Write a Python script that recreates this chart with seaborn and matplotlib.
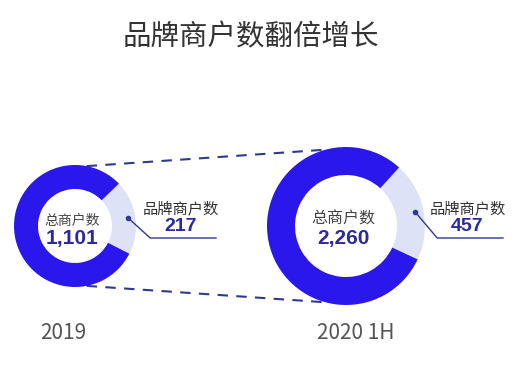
import numpy as np
import matplotlib
matplotlib.use("Agg")
import matplotlib.pyplot as plt
import seaborn as sns

# данные
years = ["2019", "2020 1H"]
total_merchants = [1101, 2260]
brand_merchants = [217, 457]
title = "品牌商户数翻倍增长"
center_label = "总商户数"
brand_label = "品牌商户数"

sns.set_theme(style="white")
plt.rcParams["font.family"] = ["Noto Sans CJK SC", "DejaVu Sans"]

blue = "#2a17ec"
light = "#dde2f7"
navy = "#2b2b9c"
line_col = "#2d3a8e"
H = 373

# layout (pixels, y from top)
centers = [(75, 226), (346, 226)]
radii = [61, 79]
widths = [24, 28]
start_angles = [-27, -25]
year_x = [63, 356]

fig = plt.figure(figsize=(5.22, 3.73), dpi=100)
ax = fig.add_axes([0, 0, 1, 1])

for i in range(len(years)):
    cx, cy = centers[i]
    r = radii[i]
    ax.pie([brand_merchants[i], total_merchants[i] - brand_merchants[i]],
           colors=[light, blue], startangle=start_angles[i], counterclock=True,
           radius=r, center=(cx, H - cy),
           wedgeprops=dict(width=widths[i], linewidth=0))

    # подписи в центре
    fs = 10 if i == 0 else 11.5
    ax.text(cx - 3, H - 228, center_label, ha="center", va="bottom",
            fontsize=fs, color="#444444")
    ax.text(cx - 3, H - 229, f"{total_merchants[i]:,}", ha="center", va="top",
            fontsize=15, fontweight="bold", color=navy, family="Liberation Sans")

    # выноска к сегменту
    share = brand_merchants[i] / total_merchants[i]
    mid = np.deg2rad(start_angles[i] + share * 360 / 2)
    dx = cx + (r - widths[i] * 0.3) * np.cos(mid)
    dy = cy - (r - widths[i] * 0.3) * np.sin(mid)
    ex, ey = dx + 22, 238
    ax.plot([dx, ex, ex + 66], [H - dy, H - ey, H - ey], color=line_col, lw=1)
    ax.plot([dx], [H - dy], "o", color=line_col, ms=3)
    ax.text(ex + 31, H - 217, brand_label, ha="center", va="bottom",
            fontsize=11, color="#333333")
    ax.text(ex + 30, H - 218, f"{brand_merchants[i]}", ha="center", va="top",
            fontsize=14, fontweight="bold", color=navy, family="Liberation Sans")

    ax.text(year_x[i], H - 333, years[i], ha="center", va="center",
            fontsize=15, color="#555555")

# пунктирные линии между кругами
(c0x, c0y), (c1x, c1y) = centers
for sgn in (1, -1):
    a0 = np.deg2rad(79 * sgn)
    a1 = np.deg2rad(180 - 75) * sgn
    x0, y0 = c0x + radii[0] * np.cos(a0), c0y - radii[0] * np.sin(a0)
    x1, y1 = c1x + radii[1] * np.cos(a1), c1y - radii[1] * np.sin(a1)
    ax.plot([x0, x1], [H - y0, H - y1], color=line_col, lw=1.5,
            dashes=(5, 4), zorder=0)

ax.text(251, H - 37, title, ha="center", va="center", fontsize=20.5,
        color="#333333")

ax.set_xlim(0, 522)
ax.set_ylim(0, H)
ax.set_aspect("equal")
ax.axis("off")

fig.savefig("out.png", dpi=100, facecolor="white")
